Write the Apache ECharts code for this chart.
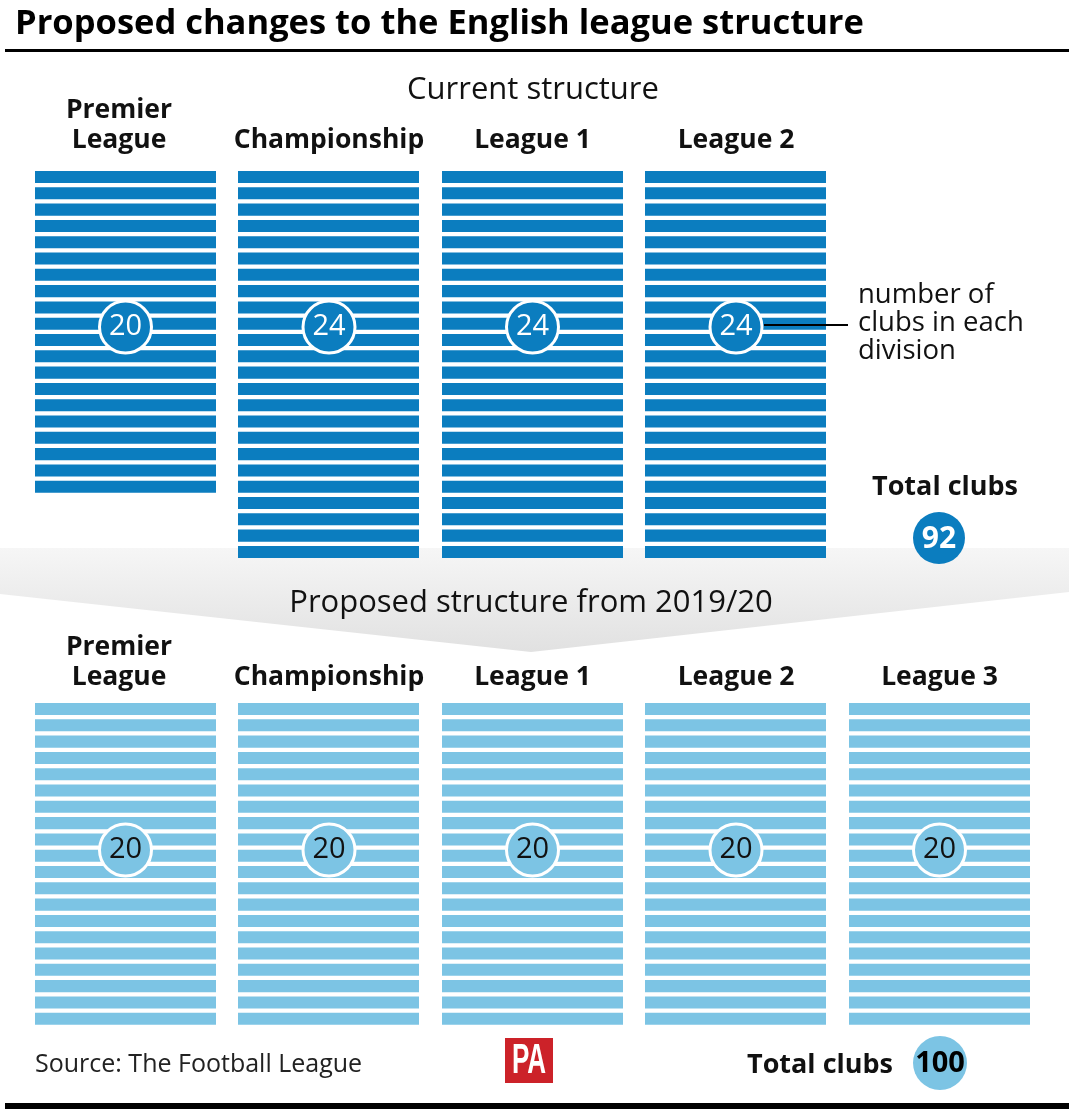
<!DOCTYPE html>
<html>
<head>
<meta charset="utf-8">
<script src="https://cdn.jsdelivr.net/npm/echarts@6/dist/echarts.min.js"></script>
<style>
html,body{margin:0;padding:0;background:#fff;}
#chart{width:1069px;height:1109px;}
</style>
</head>
<body>
<div id="chart"></div>
<script>
// ---- data ----
const currentDivisions = ['Premier\nLeague', 'Championship', 'League 1', 'League 2'];
const currentClubs = [20, 24, 24, 24];
const proposedDivisions = ['Premier\nLeague', 'Championship', 'League 1', 'League 2', 'League 3'];
const proposedClubs = [20, 20, 20, 20, 20];
const totalCurrent = 92;
const totalProposed = 100;
const titleText = 'Proposed changes to the English league structure';
const currentTitle = 'Current structure';
const proposedTitle = 'Proposed structure from 2019/20';
const noteText = 'number of\nclubs in each\ndivision';
const sourceText = 'Source: The Football League';

// ---- style ----
const FONT = '"Open Sans"';
const DARK = '#0b7dbf';
const LIGHT = '#7cc4e4';
const PITCH = 16.3;
const BAND = 203.5;
const LEFT = 23.75;

function stripes(counts) {
  const out = [];
  counts.forEach((n, d) => { for (let i = 0; i < n; i++) out.push([d, i]); });
  return out;
}
function stripeRender(color) {
  return function (params, api) {
    const p = api.coord([api.value(0), api.value(1)]);
    const band = api.size([1, 0])[0];
    const unit = api.size([0, 1])[1];
    const w = band * 0.89;
    const h = unit * 0.74;
    return { type: 'rect', shape: { x: Math.round(p[0] - w / 2), y: p[1], width: Math.round(w), height: h }, style: { fill: color } };
  };
}
function catData(names) {
  return names.map(n => n.indexOf('\n') >= 0 ? { value: n, textStyle: { padding: [0, 13, 0, 0] } } : n);
}

const chart = echarts.init(document.getElementById('chart'), null, { renderer: 'canvas' });

const labelCommon = { interval: 0, fontFamily: FONT, fontWeight: 'bold', fontSize: 26.5, lineHeight: 30, color: '#111' };
const axisCommon = {
  type: 'category', position: 'top',
  axisLine: { show: false }, axisTick: { show: false }, splitLine: { show: false }
};

const option = {
  backgroundColor: '#fff',
  animation: false,
  grid: [
    { left: LEFT, top: 171, width: BAND * currentDivisions.length, height: PITCH * 24 },
    { left: LEFT, top: 703, width: BAND * proposedDivisions.length, height: PITCH * 20 }
  ],
  xAxis: [
    Object.assign({}, axisCommon, { gridIndex: 0, data: catData(currentDivisions), axisLabel: Object.assign({}, labelCommon, { margin: 16 }) }),
    Object.assign({}, axisCommon, { gridIndex: 1, data: catData(proposedDivisions), axisLabel: Object.assign({}, labelCommon, { margin: 11 }) })
  ],
  yAxis: [
    { gridIndex: 0, type: 'value', min: 0, max: 24, inverse: true, show: false },
    { gridIndex: 1, type: 'value', min: 0, max: 20, inverse: true, show: false }
  ],
  graphic: [
    { type: 'polygon', z: -10, shape: { points: [[0, 548], [1069, 548], [1069, 592], [531, 652], [0, 594]] },
      style: { fill: new echarts.graphic.LinearGradient(0, 0, 0, 1, [{ offset: 0, color: '#f6f6f6' }, { offset: 1, color: '#e1e1e1' }]) } },
    { type: 'text', x: 15, y: 24, style: { text: titleText, font: 'bold 34.5px ' + FONT, fill: '#000', align: 'left', verticalAlign: 'middle' } },
    { type: 'rect', shape: { x: 5, y: 49, width: 1064, height: 3 }, style: { fill: '#000' } },
    { type: 'text', x: 533, y: 90, style: { text: currentTitle, font: '31px ' + FONT, fill: '#111', align: 'center', verticalAlign: 'middle' } },
    { type: 'text', x: 531, y: 603, style: { text: proposedTitle, font: '31px ' + FONT, fill: '#111', align: 'center', verticalAlign: 'middle' } },
    { type: 'line', z: 100, shape: { x1: 764, y1: 325, x2: 848, y2: 325 }, style: { stroke: '#000', lineWidth: 2 } },
    { type: 'text', x: 858, y: 281, style: { text: noteText, font: '27.5px ' + FONT, lineHeight: 28, fill: '#111', align: 'left', verticalAlign: 'top' } },
    { type: 'text', x: 945, y: 487, style: { text: 'Total clubs', font: 'bold 27px ' + FONT, fill: '#111', align: 'center', verticalAlign: 'middle' } },
    { type: 'circle', shape: { cx: 939, cy: 538, r: 26 }, style: { fill: DARK } },
    { type: 'text', x: 939, y: 539, style: { text: String(totalCurrent), font: 'bold 30px ' + FONT, fill: '#fff', align: 'center', verticalAlign: 'middle' } },
    { type: 'text', x: 35, y: 1065, style: { text: sourceText, font: '25px ' + FONT, fill: '#222', align: 'left', verticalAlign: 'middle' } },
    { type: 'rect', shape: { x: 505, y: 1038, width: 48, height: 45 }, style: { fill: '#cc2229' } },
    { type: 'text', x: 529, y: 1061, scaleX: 0.62, style: { text: 'PA', font: 'bold 42px "Liberation Sans"', fill: '#fff', align: 'center', verticalAlign: 'middle' } },
    { type: 'text', x: 893, y: 1065, style: { text: 'Total clubs', font: 'bold 27px ' + FONT, fill: '#111', align: 'right', verticalAlign: 'middle' } },
    { type: 'circle', shape: { cx: 940, cy: 1063, r: 27 }, style: { fill: LIGHT } },
    { type: 'text', x: 940, y: 1064, style: { text: String(totalProposed), font: 'bold 29px ' + FONT, fill: '#000', align: 'center', verticalAlign: 'middle' } },
    { type: 'rect', shape: { x: 5, y: 1103, width: 1064, height: 6 }, style: { fill: '#000' } }
  ],
  series: [
    { type: 'custom', xAxisIndex: 0, yAxisIndex: 0, data: stripes(currentClubs), renderItem: stripeRender(DARK), encode: { x: 0, y: 1 } },
    { type: 'custom', xAxisIndex: 1, yAxisIndex: 1, data: stripes(proposedClubs), renderItem: stripeRender(LIGHT), encode: { x: 0, y: 1 } },
    { type: 'scatter', xAxisIndex: 0, yAxisIndex: 0, z: 5, symbol: 'circle', symbolSize: 52,
      data: currentClubs.map((v, d) => [d, 9.57, v]),
      itemStyle: { color: DARK, borderColor: '#fff', borderWidth: 3, opacity: 1 },
      label: { show: true, position: 'inside', formatter: p => String(p.value[2]), fontFamily: FONT, fontSize: 29, color: '#fff' } },
    { type: 'scatter', xAxisIndex: 1, yAxisIndex: 1, z: 5, symbol: 'circle', symbolSize: 52,
      data: proposedClubs.map((v, d) => [d, 9.02, v]),
      itemStyle: { color: LIGHT, borderColor: '#fff', borderWidth: 3, opacity: 1 },
      label: { show: true, position: 'inside', formatter: p => String(p.value[2]), fontFamily: FONT, fontSize: 29, color: '#111' } }
  ]
};
chart.setOption(option);
</script>
</body>
</html>
